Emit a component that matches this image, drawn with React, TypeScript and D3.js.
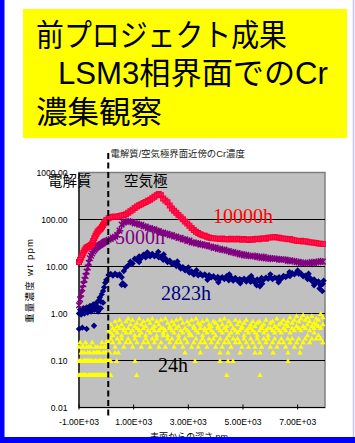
import React from 'react';
import * as d3 from 'd3';

// Sampling depths (nm) shared by the depth-profile series
const depthNm = [
  -1000, -960, -920, -880, -840, -800, -760, -720, -680, -640, -600, -560, -520, -480, -440, -400, -360, -320, -280, -240, -200, -160, -120, -80, -40,
  0, 80, 160, 240, 320, 400, 480, 560, 640, 720,
  800, 880, 960, 1040, 1120, 1200, 1280, 1360, 1440, 1520,
  1600, 1680, 1760, 1840, 1920, 2000, 2080, 2160, 2240, 2320,
  2400, 2480, 2560, 2640, 2720, 2800, 2880, 2960, 3040, 3120,
  3200, 3280, 3360, 3440, 3520, 3600, 3680, 3760, 3840, 3920,
  4000, 4080, 4160, 4240, 4320, 4400, 4480, 4560, 4640, 4720,
  4800, 4880, 4960, 5040, 5120, 5200, 5280, 5360, 5440, 5520,
  5600, 5680, 5760, 5840, 5920, 6000, 6080, 6160, 6240, 6320,
  6400, 6480, 6560, 6640, 6720, 6800, 6880, 6960, 7040, 7120,
  7200, 7280, 7360, 7440, 7520, 7600, 7680, 7760, 7840, 7920,
];

// Cr concentration, wt ppm — 10000 h
const cr10000h = [
  12.5, 14, 15.5, 17.5, 19.5, 22, 24, 25.5, 26, 27, 27.5, 28.5, 31, 35, 40, 45, 50, 55, 58, 61, 64, 70, 76, 83, 90,
  97, 106, 111, 114, 116, 114, 118, 122, 125, 130,
  140, 150, 162, 176, 190, 200, 212, 225, 235, 250,
  264, 282, 305, 328, 350, 330, 280, 255, 232, 198,
  172, 154, 139, 125, 112, 101, 91, 82, 74, 66,
  60, 55, 51.5, 48.5, 46, 45, 43, 41.5, 40.5, 40,
  39.5, 39, 38.5, 39.5, 38, 38.5, 37.5, 39, 38, 37.5,
  39, 38, 37, 38.5, 37.5, 36.5, 38, 37, 38.5, 39,
  38, 39.5, 40, 39, 41, 41.5, 42, 42.5, 41.5, 41,
  40, 39.5, 39, 38, 38.5, 37, 36, 35.5, 35, 35.5,
  34, 34.5, 33.5, 33, 32.5, 32, 31.5, 31, 30.5, 30,
];

// 5000 h
const cr5000h = [
  1.5, 2.0, 2.6, 3.4, 4.2, 5.2, 6.3, 7.8, 9.5, 12, 15, 17, 19, 21, 22.5, 24, 25.5, 26.5, 27.5, 28.5, 29.5, 30.5, 31.5, 33, 34,
  35, 37, 38.5, 41, 43, 47, 58, 78, 86, 90,
  92, 89, 88, 83, 82, 78, 77, 72, 71, 66,
  66, 62, 61.5, 58, 57, 53, 53, 50, 49.5, 46.5,
  46.5, 43.5, 43.5, 40.5, 40.5, 37.5, 38, 35, 35.5, 32.5,
  32.5, 30.8, 31, 29.3, 29.5, 28, 28.4, 26.6, 26.4, 25,
  25.3, 23.6, 23.8, 22.6, 22.8, 21.6, 21.3, 20.1, 20.3, 19.1,
  19.3, 18.1, 18.3, 17.2, 17.8, 16.7, 16.8, 16.6, 16.8, 15.7,
  16.3, 15.2, 16, 14.9, 15.3, 14.5, 14.9, 14.6, 14.6, 13.9,
  14.3, 13.9, 14.1, 13.2, 13.5, 13, 13.1, 12.3, 12.6, 11.8,
  12.1, 11.8, 12, 11.7, 12.4, 11.8, 12.6, 12.3, 13, 12.7,
];

// 2823 h
const cr2823h = [
  1.0, 1.2, 0.95, 1.1, 1.3, 1.0, 1.15, 1.35, 1.05, 1.25, 1.45, 1.1, 1.3, 1.55, 1.2, 1.5, 1.7, 1.4, 1.9, 2.2, 1.8, 2.6, 3.0, 3.6, 4.5,
  5.2, 6.6, 6.9, 6.4, 7.0, 6.5, 6.8, 5.9, 8.0, 9.6,
  10.5, 12.6, 11.6, 14.6, 13.8, 16.4, 15.1, 17.8, 15.6, 18.2,
  16.4, 18.6, 16.5, 17.9, 15.6, 16.3, 13.9, 14.8, 12.5, 13.3,
  11.4, 11.9, 10.2, 10.8, 9.1, 9.7, 8.3, 8.6, 7.4, 7.8,
  6.7, 7.2, 6.5, 7.0, 6.4, 6.8, 6.1, 6.5, 5.9, 6.2,
  5.6, 6.0, 5.5, 5.9, 5.4, 6.2, 5.1, 5.9, 5.0, 5.7,
  5.0, 5.4, 5.1, 5.5, 4.8, 5.6, 4.7, 5.4, 4.5, 5.3,
  4.9, 5.7, 5.3, 5.8, 5.5, 5.9, 5.4, 5.8, 5.6, 5.9,
  5.5, 6.3, 6.0, 6.4, 6.3, 7.2, 6.8, 7.4, 7.0, 7.1,
  6.2, 6.4, 5.4, 5.8, 4.9, 5.3, 4.5, 4.8, 4.0, 4.3,
];

// 2823 h, readings off the main trend
const cr2823hScatter: [number, number][] = [
  [-1000, 0.47], [-880, 0.5], [-720, 0.47], [-450, 0.55], [-300, 1.1], [-200, 1.3], [-120, 1.7],
  [560, 4.1], [600, 4.4], [680, 4.0], [1200, 12.5], [1500, 20], [1900, 20.5], [2100, 18],
  [2600, 12.8], [3000, 9.5], [3300, 8.3], [3700, 5.2], [4100, 4.6], [4500, 6.8], [4900, 4.4],
  [5300, 6.3], [5500, 4.0], [5620, 3.8], [5700, 4.3], [6000, 6.8], [6300, 4.6], [6700, 7.6],
  [7000, 8.2], [7400, 7.0], [7600, 4.0], [7800, 3.4], [7900, 3.0], [7950, 5.0],
];

// 24 h (three readings per depth)
const cr24hA = [
  0.2, 0.25, 0.15, 0.2, 0.2, 0.15, 0.25, 0.2, 0.15, 0.2, 0.15, 0.2, 0.25, 0.15, 0.15, 0.2, 0.15, 0.2, 0.15, 0.15, 0.2, 0.25, 0.15, 0.2, 0.15,
  0.25, 0.45, 0.6, 0.5, 0.7, 0.55, 0.75, 0.6, 0.5, 0.7,
  0.8, 0.6, 0.75, 0.55, 0.65, 0.8, 0.6, 0.7, 0.55, 0.75,
  0.65, 0.8, 0.55, 0.7, 0.6, 0.75, 0.5, 0.8, 0.65, 0.55,
  0.7, 0.6, 0.75, 0.55, 0.8, 0.65, 0.5, 0.7, 0.6, 0.75,
  0.55, 0.8, 0.65, 0.6, 0.7, 0.5, 0.75, 0.6, 0.55, 0.7,
  0.65, 0.55, 0.75, 0.6, 0.8, 0.55, 0.7, 0.6, 0.5, 0.75,
  0.6, 0.7, 0.55, 0.65, 0.75, 0.5, 0.6, 0.7, 0.55, 0.65,
  0.7, 0.55, 0.6, 0.75, 0.5, 0.65, 0.7, 0.55, 0.8, 0.6,
  0.65, 0.75, 0.6, 0.7, 0.85, 0.65, 0.75, 0.9, 0.7, 0.8,
  0.95, 0.75, 0.85, 0.7, 0.9, 0.65, 0.8, 0.75, 1.0, 0.85,
];
const cr24hB = [
  0.1, 0.1, 0.1, 0.15, 0.1, 0.1, 0.1, 0.1, 0.15, 0.1, 0.1, 0.1, 0.1, 0.15, 0.1, 0.1, 0.1, 0.15, 0.1, 0.1, 0.1, 0.1, 0.15, 0.1, 0.1,
  0.2, 0.3, 0.4, 0.35, 0.45, 0.4, 0.5, 0.35, 0.45, 0.4,
  0.5, 0.4, 0.45, 0.35, 0.5, 0.45, 0.4, 0.5, 0.35, 0.45,
  0.4, 0.5, 0.45, 0.35, 0.45, 0.5, 0.4, 0.45, 0.35, 0.5,
  0.45, 0.4, 0.5, 0.35, 0.45, 0.4, 0.5, 0.45, 0.4, 0.35,
  0.5, 0.45, 0.4, 0.5, 0.35, 0.45, 0.4, 0.5, 0.45, 0.4,
  0.35, 0.5, 0.45, 0.4, 0.5, 0.45, 0.35, 0.4, 0.5, 0.45,
  0.4, 0.45, 0.5, 0.35, 0.45, 0.4, 0.5, 0.45, 0.4, 0.35,
  0.45, 0.5, 0.4, 0.45, 0.35, 0.5, 0.45, 0.4, 0.5, 0.45,
  0.4, 0.5, 0.45, 0.55, 0.4, 0.5, 0.45, 0.55, 0.5, 0.45,
  0.55, 0.5, 0.6, 0.45, 0.55, 0.5, 0.6, 0.55, 0.5, 0.6,
];
const cr24hC = [
  0.05, 0.05, 0.05, 0.05, 0.05, 0.05, 0.05, 0.05, 0.1, 0.05, 0.05, 0.05, 0.05, 0.05, 0.05, 0.05, 0.05, 0.05, 0.05, 0.05, 0.05, 0.05, 0.05, 0.05, 0.05,
  0.15, 0.25, 0.3, 0.25, 0.2, 0.3, 0.25, 0.3, 0.2, 0.25,
  0.3, 0.25, 0.2, 0.3, 0.25, 0.35, 0.2, 0.25, 0.3, 0.25,
  0.2, 0.3, 0.25, 0.3, 0.2, 0.25, 0.35, 0.2, 0.3, 0.25,
  0.3, 0.2, 0.25, 0.3, 0.25, 0.2, 0.3, 0.25, 0.35, 0.2,
  0.25, 0.3, 0.2, 0.25, 0.3, 0.25, 0.2, 0.3, 0.25, 0.3,
  0.2, 0.25, 0.3, 0.2, 0.25, 0.3, 0.25, 0.2, 0.3, 0.25,
  0.3, 0.25, 0.2, 0.3, 0.25, 0.2, 0.3, 0.25, 0.2, 0.3,
  0.25, 0.2, 0.3, 0.25, 0.3, 0.2, 0.25, 0.3, 0.2, 0.25,
  0.3, 0.25, 0.2, 0.3, 0.25, 0.3, 0.2, 0.25, 0.3, 0.2,
  0.25, 0.3, 0.35, 0.25, 0.3, 0.4, 0.3, 0.35, 0.3, 0.25,
];
// 24 h, low readings
const cr24hScatter: [number, number][] = [
  [0, 0.05], [40, 0.05], [80, 0.05], [120, 0.05], [160, 0.05], [0, 0.1], [60, 0.1], [100, 0.1], [160, 0.1],
  [120, 0.15], [317, 0.15], [439, 0.15], [2878, 0.15], [3439, 0.15], [4159, 0.15], [4451, 0.15], [4890, 0.15],
  [5439, 0.15], [5622, 0.15], [6098, 0.15], [6646, 0.15], [7085, 0.15],
  [378, 0.1], [1049, 0.1], [3245, 0.1], [4159, 0.1], [4451, 0.1], [4634, 0.1], [6646, 0.1],
  [1110, 0.05], [4404, 0.05], [5622, 0.05],
];

const xTicks = [-1000, 1000, 3000, 5000, 7000];
const xTickLabels = ['-1.00E+03', '1.00E+03', '3.00E+03', '5.00E+03', '7.00E+03'];
const yTicks = [0.01, 0.1, 1, 10, 100, 1000];
const yTickLabels = ['0.01', '0.10', '1.00', '10.00', '100.00', '1000.00'];
const gridValues = [0.1, 1, 10, 100];

const titleLines = ['前プロジェクト成果', 'LSM3相界面でのCr', '濃集観察'];
const chartNote = '電解質/空気極界面近傍のCr濃度';
const xTitle = '表面からの深さ nm';
const yTitle = '重量濃度 wt ppm';
const regionLabels = ['電解質', '空気極'];
const seriesNames = ['10000h', '5000h', '2823h', '24h'];
const interfaceDepth = 70;

const W = 355;
const H = 443;
const plot = { left: 79, right: 325, top: 172.5, bottom: 407.5 };

const SANS = "'Liberation Sans', Arial, 'Noto Sans CJK JP', sans-serif";
const SERIF = "'Liberation Serif', 'Times New Roman', serif";

const zip = (xs: number[], ys: number[]): [number, number][] =>
  xs.map((d, i) => [d, ys[i]] as [number, number]).filter((p) => p[1] !== undefined);

export default function App() {
  const x = d3.scaleLinear().domain([-1000, 8000]).range([plot.left, plot.right]);
  const y = d3.scaleLog().domain([0.01, 1000]).range([plot.bottom, plot.top]);

  const pathOf = (pts: [number, number][], mk: (cx: number, cy: number) => string) =>
    pts.map(([d, v]) => mk(x(d), y(v))).join('');

  const square = (cx: number, cy: number) => {
    const s = 4.8;
    return `M${cx - s / 2},${cy - s / 2}h${s}v${s}h${-s}Z`;
  };
  const diamond = (cx: number, cy: number) => {
    const r = 3.2;
    return `M${cx},${cy - r}L${cx + r},${cy}L${cx},${cy + r}L${cx - r},${cy}Z`;
  };
  const triangle = (cx: number, cy: number) => {
    const w = 5.4;
    const h = 4.8;
    return `M${cx},${cy - h / 2}L${cx + w / 2},${cy + h / 2}L${cx - w / 2},${cy + h / 2}Z`;
  };
  const star = (cx: number, cy: number) => {
    const r = 2.8;
    return `M${cx - r},${cy - r}L${cx + r},${cy + r}M${cx + r},${cy - r}L${cx - r},${cy + r}M${cx},${cy - r - 0.5}L${cx},${cy + r + 0.5}`;
  };

  const red = zip(depthNm, cr10000h);
  const purple = zip(depthNm, cr5000h);
  const navy = zip(depthNm, cr2823h).concat(cr2823hScatter);
  const yellow = zip(depthNm, cr24hA).concat(zip(depthNm, cr24hB), zip(depthNm, cr24hC), cr24hScatter);

  const xi = x(interfaceDepth);

  return (
    <svg
      width={W}
      height={H}
      viewBox={`0 0 ${W} ${H}`}
      style={{ position: 'absolute', left: 0, top: 0, background: '#fff' }}
    >
      <rect x={0} y={0} width={W} height={H} fill="#fff" />

      {/* title box */}
      <rect x={23} y={9} width={324} height={129} fill="#ffff00" />
      <g fontFamily={SANS} fontSize={31} fill="#000">
        <text x={36} y={46} textLength={251} lengthAdjust="spacingAndGlyphs">{titleLines[0]}</text>
        <text x={58} y={84} textLength={270} lengthAdjust="spacingAndGlyphs">{titleLines[1]}</text>
        <text x={36} y={123} textLength={126} lengthAdjust="spacingAndGlyphs">{titleLines[2]}</text>
      </g>

      {/* plot area */}
      <rect
        x={plot.left}
        y={plot.top}
        width={plot.right - plot.left}
        height={plot.bottom - plot.top}
        fill="#c0c0c0"
        stroke="#808080"
        strokeWidth={1.5}
      />
      {gridValues.map((v) => (
        <line key={v} x1={plot.left} x2={plot.right} y1={y(v)} y2={y(v)} stroke="#000" strokeWidth={1} />
      ))}
      <line x1={plot.left} x2={plot.left} y1={plot.top} y2={plot.bottom} stroke="#000" strokeWidth={1.2} />
      <line x1={plot.left} x2={plot.right} y1={plot.bottom} y2={plot.bottom} stroke="#000" strokeWidth={1.2} />
      {xTicks.map((t) => (
        <line key={t} x1={x(t)} x2={x(t)} y1={plot.bottom - 3} y2={plot.bottom + 2} stroke="#000" strokeWidth={1} />
      ))}

      {/* tick labels */}
      <g fontFamily={SANS} fontSize={8.6} fill="#000">
        {yTicks.map((t, i) => (
          <text key={t} x={67.5} y={y(t) + 3} textAnchor="end">{yTickLabels[i]}</text>
        ))}
        {xTicks.map((t, i) => (
          <text key={t} x={x(t)} y={425} textAnchor="middle">{xTickLabels[i]}</text>
        ))}
      </g>

      {/* axis titles */}
      <text x={189} y={440} fontFamily={SANS} fontSize={9} textAnchor="middle" fill="#000">{xTitle}</text>
      <text
        transform="translate(32.5,281) rotate(-90)"
        fontFamily={SANS}
        fontSize={9.5}
        textAnchor="middle"
        fill="#000"
        textLength={84}
        lengthAdjust="spacing"
      >
        {yTitle}
      </text>

      {/* series labels */}
      <g fontFamily={SERIF} fontSize={20}>
        <text x={213} y={223} fill="#ff0000">{seriesNames[0]}</text>
        <text x={115} y={244} fill="#800080">{seriesNames[1]}</text>
        <text x={161} y={299.5} fill="#000080">{seriesNames[2]}</text>
        <text x={158} y={372} fill="#000">{seriesNames[3]}</text>
      </g>

      {/* series markers */}
      <path d={pathOf(yellow, triangle)} fill="#ffff00" />
      <path d={pathOf(navy, diamond)} fill="#000080" />
      <path d={pathOf(purple, star)} fill="none" stroke="#800080" strokeWidth={1.5} />
      <path d={pathOf(red, square)} fill="#ff2f8f" stroke="#ff0030" strokeWidth={1.2} />

      {/* electrolyte / cathode boundary */}
      <line x1={xi} x2={xi} y1={153} y2={418} stroke="#000" strokeWidth={2} strokeDasharray="6,3.5" />
      <text x={110.5} y={157} fontFamily={SANS} fontSize={9.4} fill="#222">{chartNote}</text>
      <g fontFamily={SANS} fontSize={14.5} fill="#000">
        <text x={48} y={186}>{regionLabels[0]}</text>
        <text x={124} y={186}>{regionLabels[1]}</text>
      </g>

      {/* frame */}
      <rect x={0} y={0} width={4.5} height={H} fill="#0000ff" />
      <rect x={0} y={437} width={W} height={H - 437} fill="#0000ff" />
      <line x1={353.5} x2={353.5} y1={0} y2={437} stroke="#c4c4f4" strokeWidth={1.5} />
    </svg>
  );
}
